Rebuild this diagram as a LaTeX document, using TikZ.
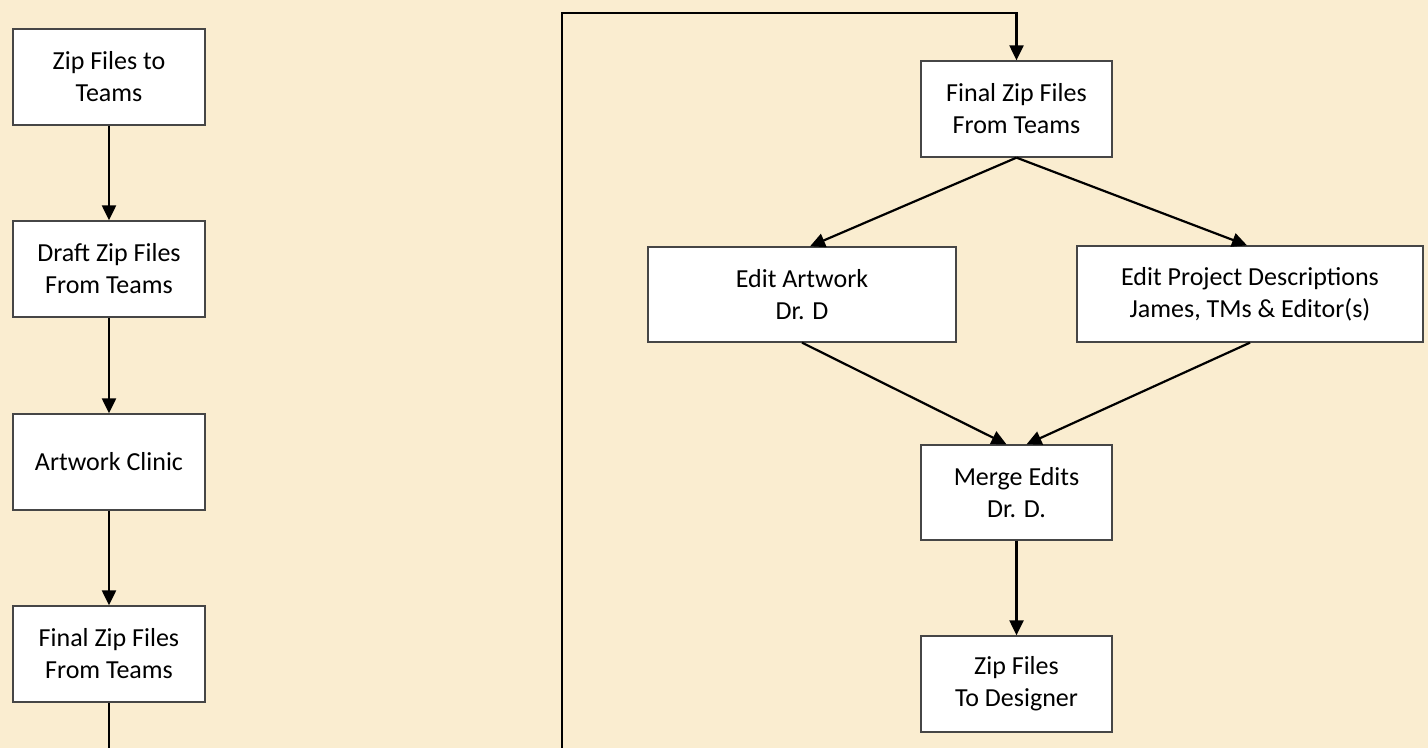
\documentclass[tikz,border=0pt]{standalone}
\usepackage{fontspec}
\setmainfont{Carlito}
\usetikzlibrary{arrows.meta,calc}
\definecolor{parch}{RGB}{250,237,208}
\definecolor{boxline}{RGB}{70,70,70}
\begin{document}
\begin{tikzpicture}[x=0.5pt,y=-0.5pt,
  box/.style={draw=boxline,line width=0.65pt,fill=white,inner sep=0pt,
    align=center,font=\fontsize{13}{16}\selectfont,
    minimum width=96pt,minimum height=48pt},
  conn/.style={draw=black,line width=1.1pt},
  arr/.style={conn,-{Triangle[length=7.5pt,width=7pt]}}]
\fill[parch] (0,0) rectangle (1428,748);
\useasboundingbox (0,0) rectangle (1428,748);
% left column
\node[box] (l1) at (109,77) {Zip Files to\\Teams};
\node[box] (l2) at (109,269) {Draft Zip Files\\From Teams};
\node[box] (l3) at (109,462) {Artwork Clinic};
\node[box] (l4) at (109,654) {Final Zip Files\\From Teams};
\coordinate (lout) at (109,748);
% right part
\node[box,minimum width=95.5pt] (r0) at (1016.5,109) {Final Zip Files\\From Teams};
\node[box,minimum width=154pt,minimum height=47.5pt] (ea) at (802,294.5) {Edit Artwork\\Dr. D};
\node[box,minimum width=173pt] (ep) at (1250,294) {Edit Project Descriptions\\James, TMs \& Editor(s)};
\node[box,minimum width=95.5pt,minimum height=47.5pt] (me) at (1016.5,492.5) {Merge Edits\\Dr. D.};
\node[box,minimum width=95.5pt] (zd) at (1016.5,684) {Zip Files\\To Designer};
\coordinate (rin) at (562,748);
\coordinate (rtop) at (562,13);
% connectors
\draw[arr] (l1) -- (l2);
\draw[arr] (l2) -- (l3);
\draw[arr] (l3) -- (l4);
\draw[conn] (l4.south) -- (lout);
\draw[arr] (rin) -- (rtop) -| (r0.north);
\draw[arr] (r0.south) -- ($(ea.north)+(8,0)$);
\draw[arr] (r0.south) -- ($(ep.north)+(-3,0)$);
\draw[arr] (ea.south) -- ($(me.north)+(-10,0)$);
\draw[arr] (ep.south) -- ($(me.north)+(10,0)$);
\draw[arr] (me) -- (zd);
\end{tikzpicture}
\end{document}
